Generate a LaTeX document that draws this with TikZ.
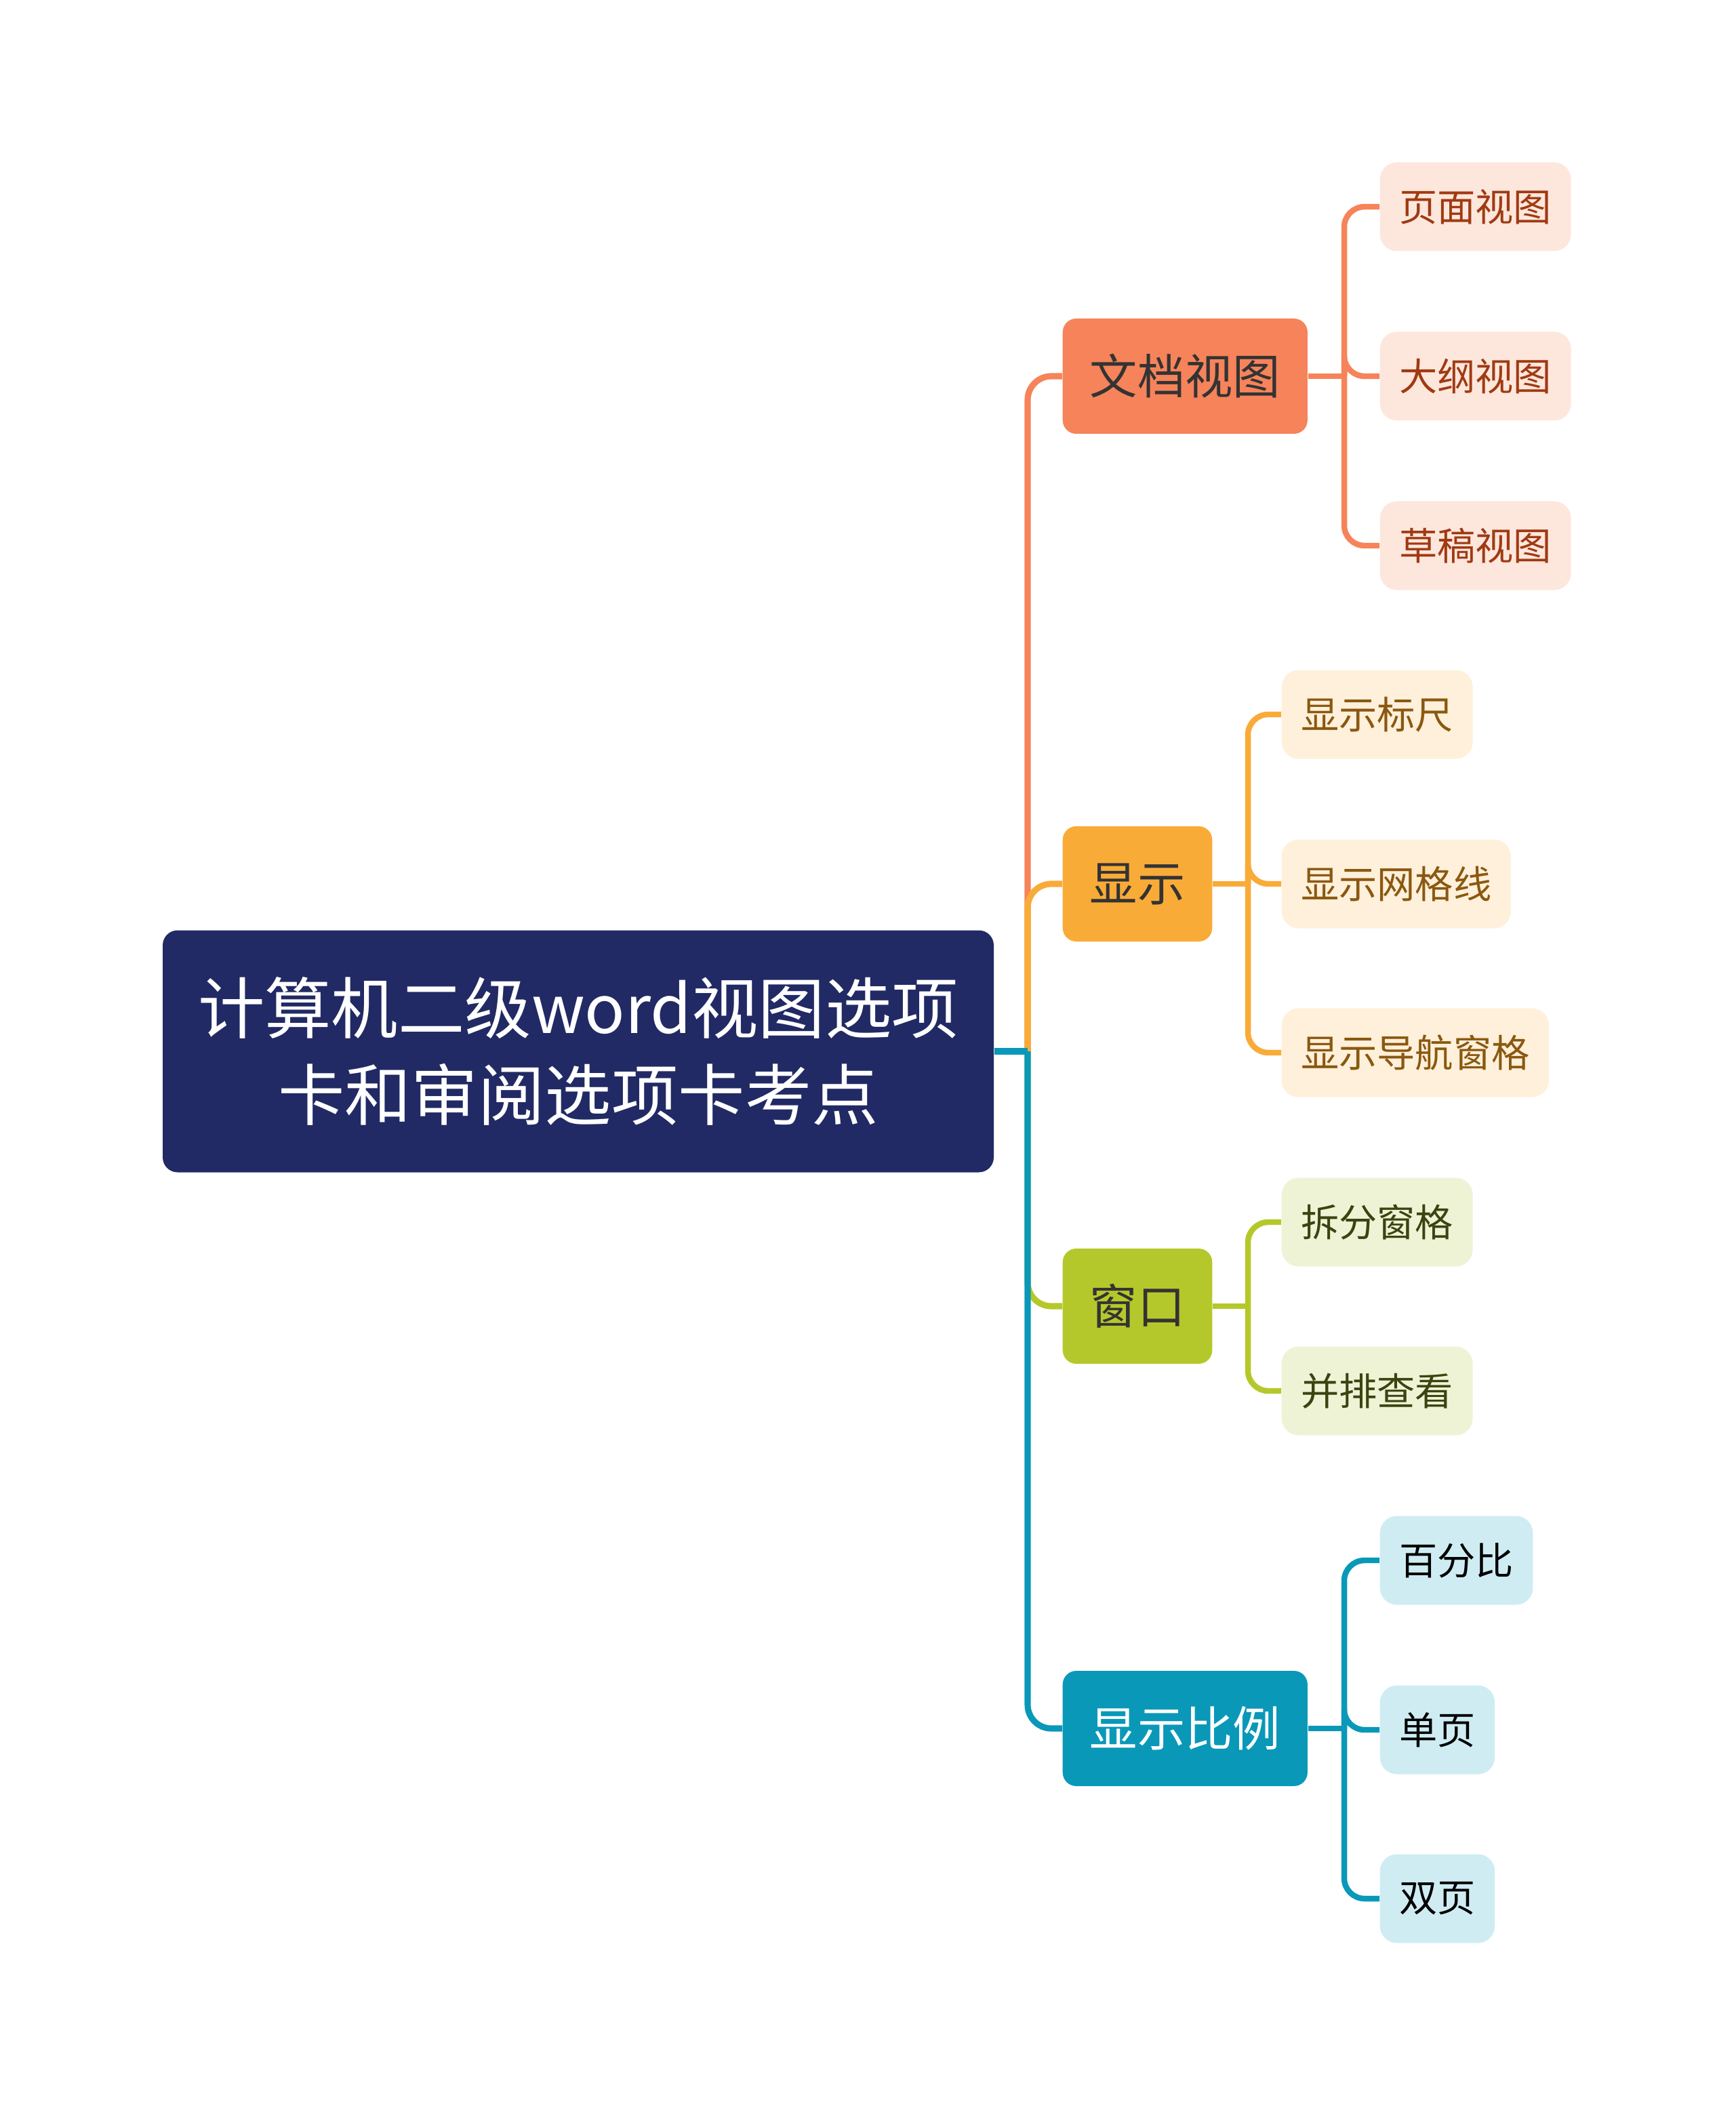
\documentclass[tikz,border=0pt]{standalone}
\usepackage{fontspec}
\usepackage{tikz}
\usetikzlibrary{positioning}
\newfontfamily\cjk{Noto Sans CJK SC}
\definecolor{rootBlue}{HTML}{212A64}
\definecolor{docOrange}{HTML}{F6835A}
\definecolor{docFill}{HTML}{FDE7DD}
\definecolor{docText}{HTML}{A03A12}
\definecolor{showYellow}{HTML}{F9AB38}
\definecolor{showFill}{HTML}{FEF0DA}
\definecolor{showText}{HTML}{8A5810}
\definecolor{winGreen}{HTML}{B5C82B}
\definecolor{winFill}{HTML}{EFF3D6}
\definecolor{winText}{HTML}{3A4410}
\definecolor{scaleTeal}{HTML}{0A98B8}
\definecolor{scaleFill}{HTML}{CFECF3}
\definecolor{topicText}{HTML}{333333}
\tikzset{
  mapRoot/.style={rounded corners=0.22cm, fill=rootBlue, text=white, align=center, font=\cjk\fontsize{28}{36.6}\selectfont, minimum width=12.26cm, minimum height=3.57cm, inner sep=0pt},
  mapTopic/.style={rounded corners=0.2cm, anchor=west, align=center, font=\cjk\fontsize{20}{24}\selectfont, text=topicText, inner xsep=0.4cm, inner ysep=0pt, minimum height=1.7cm},
  mapLeaf/.style={rounded corners=0.25cm, anchor=west, align=center, font=\cjk\fontsize{16}{20}\selectfont, inner xsep=0.285cm, inner ysep=0pt, minimum height=1.31cm},
  mapBranch/.style={line width=2.6pt},
  mapTwig/.style={line width=2.4pt, rounded corners=0.3cm}
}
\begin{document}
\begin{tikzpicture}
      \useasboundingbox (0,0) rectangle (25.6,-31.07);
      \node[mapRoot] (root) at (8.53,-15.51) {计算机二级word视图选项\\卡和审阅选项卡考点};
      \node[mapTopic, fill=docOrange] (docView) at (15.67,-5.55) {文档视图};
      \node[mapTopic, fill=showYellow] (show) at (15.67,-13.04) {显示};
      \node[mapTopic, fill=winGreen] (window) at (15.67,-19.27) {窗口};
      \node[mapTopic, fill=scaleTeal, text=white] (zoom) at (15.67,-25.50) {显示比例};
      \node[mapLeaf, fill=docFill, text=docText] (pageView) at (20.35,-3.05) {页面视图};
      \node[mapLeaf, fill=docFill, text=docText] (outlineView) at (20.35,-5.55) {大纲视图};
      \node[mapLeaf, fill=docFill, text=docText] (draftView) at (20.35,-8.05) {草稿视图};
      \node[mapLeaf, fill=showFill, text=showText] (ruler) at (18.90,-10.54) {显示标尺};
      \node[mapLeaf, fill=showFill, text=showText] (gridLines) at (18.90,-13.04) {显示网格线};
      \node[mapLeaf, fill=showFill, text=showText] (navPane) at (18.90,-15.53) {显示导航窗格};
      \node[mapLeaf, fill=winFill, text=winText] (splitPane) at (18.90,-18.03) {拆分窗格};
      \node[mapLeaf, fill=winFill, text=winText] (sideBySide) at (18.90,-20.52) {并排查看};
      \node[mapLeaf, fill=scaleFill, text=black] (percent) at (20.35,-23.02) {百分比};
      \node[mapLeaf, fill=scaleFill, text=black] (onePage) at (20.35,-25.52) {单页};
      \node[mapLeaf, fill=scaleFill, text=black] (twoPages) at (20.35,-28.01) {双页};
      \coordinate (trunk) at (15.16,-15.51);
      \coordinate (docFork) at (19.83,-5.55);
      \coordinate (showFork) at (18.41,-13.04);
      \coordinate (winFork) at (18.41,-19.27);
      \coordinate (zoomFork) at (19.83,-25.50);
      \draw[mapBranch, docOrange, rounded corners=0.35cm] (trunk) |- (docView.west);
      \draw[mapBranch, showYellow, rounded corners=0.35cm] (trunk) |- (show.west);
      \draw[mapBranch, winGreen, rounded corners=0.35cm] (trunk) |- (window.west);
      \draw[mapBranch, scaleTeal, rounded corners=0.35cm] (trunk) |- (zoom.west);
      \draw[mapBranch, scaleTeal] (root.east) -- (trunk);
      \draw[mapTwig, docOrange] (docView.east) -- (docFork);
      \draw[mapTwig, docOrange] (docFork) |- (pageView.west);
      \draw[mapTwig, docOrange] (docFork) |- (outlineView.west);
      \draw[mapTwig, docOrange] (docFork) |- (draftView.west);
      \draw[mapTwig, showYellow] (show.east) -- (showFork);
      \draw[mapTwig, showYellow] (showFork) |- (ruler.west);
      \draw[mapTwig, showYellow] (showFork) |- (gridLines.west);
      \draw[mapTwig, showYellow] (showFork) |- (navPane.west);
      \draw[mapTwig, winGreen] (window.east) -- (winFork);
      \draw[mapTwig, winGreen] (winFork) |- (splitPane.west);
      \draw[mapTwig, winGreen] (winFork) |- (sideBySide.west);
      \draw[mapTwig, scaleTeal] (zoom.east) -- (zoomFork);
      \draw[mapTwig, scaleTeal] (zoomFork) |- (percent.west);
      \draw[mapTwig, scaleTeal] (zoomFork) |- (onePage.west);
      \draw[mapTwig, scaleTeal] (zoomFork) |- (twoPages.west);
    \end{tikzpicture}
\end{document}
